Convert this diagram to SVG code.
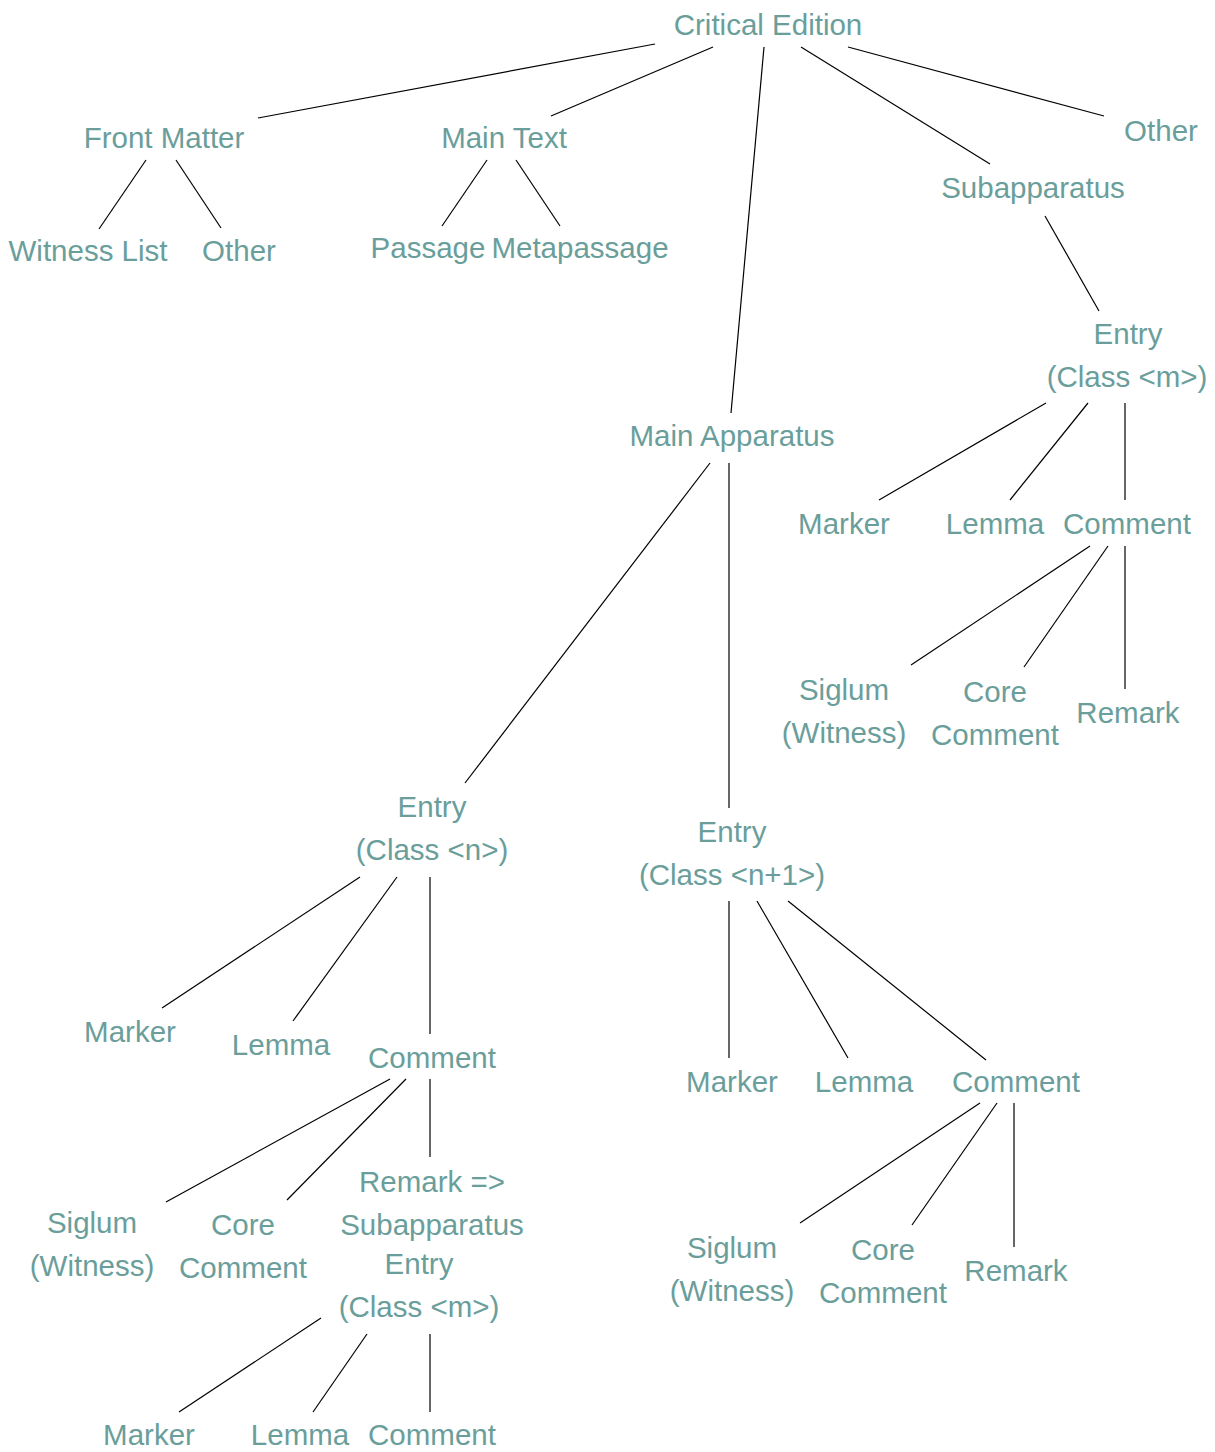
<svg xmlns="http://www.w3.org/2000/svg" width="1215" height="1452" viewBox="0 0 1215 1452">
<style>
text{font-family:"Liberation Sans",Arial,sans-serif;font-size:29.5px;fill:#6a9e9b;text-anchor:middle}
.c line{stroke:#000;stroke-width:1.2}
</style>
<rect width="1215" height="1452" fill="#fff"/>
<g class="c" id="connectors">
<line x1="655" y1="44" x2="258" y2="118"/>
<line x1="713" y1="47" x2="551" y2="116"/>
<line x1="764" y1="47" x2="731" y2="413"/>
<line x1="801" y1="47" x2="990" y2="164"/>
<line x1="848" y1="47" x2="1104" y2="116"/>
<line x1="146" y1="160" x2="99" y2="229"/>
<line x1="176" y1="160" x2="221" y2="228"/>
<line x1="487" y1="160" x2="442" y2="226"/>
<line x1="516" y1="160" x2="560" y2="226"/>
<line x1="1045" y1="216" x2="1099" y2="311"/>
<line x1="1046" y1="403" x2="879" y2="500"/>
<line x1="1088" y1="403" x2="1010" y2="500"/>
<line x1="1125" y1="403" x2="1125" y2="500"/>
<line x1="1090" y1="546" x2="911" y2="665"/>
<line x1="1108" y1="546" x2="1024" y2="667"/>
<line x1="1125" y1="546" x2="1125" y2="689"/>
<line x1="710" y1="463" x2="465" y2="783"/>
<line x1="729" y1="463" x2="729" y2="808"/>
<line x1="360" y1="877" x2="162" y2="1008"/>
<line x1="397" y1="877" x2="293" y2="1021"/>
<line x1="430" y1="877" x2="430" y2="1034"/>
<line x1="390" y1="1079" x2="166" y2="1202"/>
<line x1="406" y1="1079" x2="287" y2="1200"/>
<line x1="430" y1="1079" x2="430" y2="1157"/>
<line x1="729" y1="901" x2="729" y2="1058"/>
<line x1="757" y1="901" x2="848" y2="1058"/>
<line x1="788" y1="901" x2="986" y2="1060"/>
<line x1="980" y1="1103" x2="800" y2="1223"/>
<line x1="997" y1="1103" x2="912" y2="1225"/>
<line x1="1014" y1="1103" x2="1014" y2="1247"/>
<line x1="321" y1="1318" x2="179" y2="1412"/>
<line x1="367" y1="1334" x2="313" y2="1412"/>
<line x1="430" y1="1334" x2="430" y2="1412"/>
</g>
<g id="critical-edition"><text x="768" y="35">Critical Edition</text></g>
<g id="front-matter"><text x="164" y="148">Front Matter</text></g>
<g id="main-text"><text x="504" y="148">Main Text</text></g>
<g id="other-top"><text x="1161" y="141">Other</text></g>
<g id="subapparatus"><text x="1033" y="198">Subapparatus</text></g>
<g id="witness-list"><text x="88" y="261">Witness List</text></g>
<g id="other-fm"><text x="239" y="261">Other</text></g>
<g id="passage"><text x="428" y="258">Passage</text></g>
<g id="metapassage"><text x="580" y="258">Metapassage</text></g>
<g id="sub-entry"><text x="1128" y="344">Entry</text><text x="1127" y="387">(Class &lt;m&gt;)</text></g>
<g id="main-apparatus"><text x="732" y="446">Main Apparatus</text></g>
<g id="sub-marker"><text x="844" y="534">Marker</text></g>
<g id="sub-lemma"><text x="995" y="534">Lemma</text></g>
<g id="sub-comment"><text x="1127" y="534">Comment</text></g>
<g id="sub-siglum"><text x="844" y="700">Siglum</text><text x="844" y="743">(Witness)</text></g>
<g id="sub-core"><text x="995" y="702">Core</text><text x="995" y="745">Comment</text></g>
<g id="sub-remark"><text x="1128" y="723">Remark</text></g>
<g id="entry-n"><text x="432" y="817">Entry</text><text x="432" y="860">(Class &lt;n&gt;)</text></g>
<g id="entry-n1"><text x="732" y="842">Entry</text><text x="732" y="885">(Class &lt;n+1&gt;)</text></g>
<g id="n-marker"><text x="130" y="1042">Marker</text></g>
<g id="n-lemma"><text x="281" y="1055">Lemma</text></g>
<g id="n-comment"><text x="432" y="1068">Comment</text></g>
<g id="n1-marker"><text x="732" y="1092">Marker</text></g>
<g id="n1-lemma"><text x="864" y="1092">Lemma</text></g>
<g id="n1-comment"><text x="1016" y="1092">Comment</text></g>
<g id="n-siglum"><text x="92" y="1233">Siglum</text><text x="92" y="1276">(Witness)</text></g>
<g id="n-core"><text x="243" y="1235">Core</text><text x="243" y="1278">Comment</text></g>
<g id="n-remark"><text x="432" y="1192">Remark =&gt;</text><text x="432" y="1235">Subapparatus</text><text x="419" y="1274">Entry</text><text x="419" y="1317">(Class &lt;m&gt;)</text></g>
<g id="n1-siglum"><text x="732" y="1258">Siglum</text><text x="732" y="1301">(Witness)</text></g>
<g id="n1-core"><text x="883" y="1260">Core</text><text x="883" y="1303">Comment</text></g>
<g id="n1-remark"><text x="1016" y="1281">Remark</text></g>
<g id="m-marker"><text x="149" y="1445">Marker</text></g>
<g id="m-lemma"><text x="300" y="1445">Lemma</text></g>
<g id="m-comment"><text x="432" y="1445">Comment</text></g>
</svg>
